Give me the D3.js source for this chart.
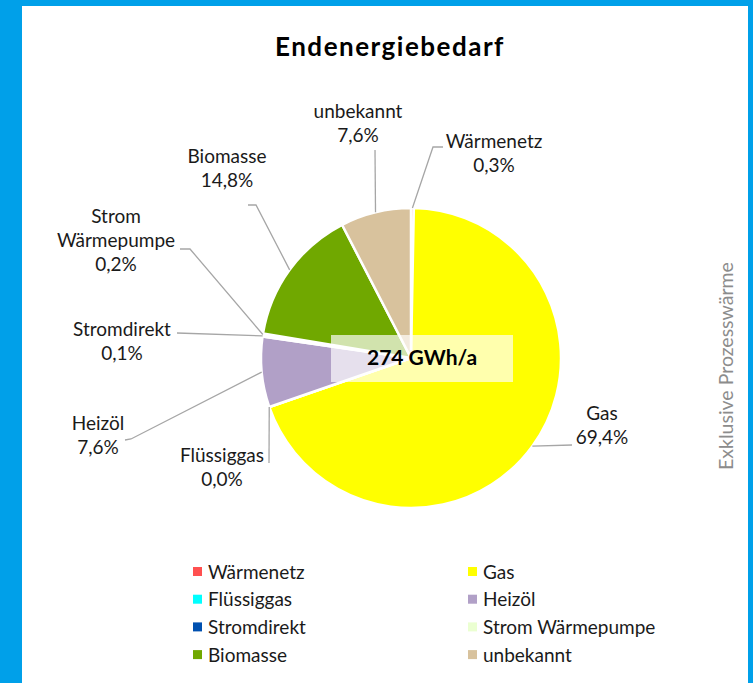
<!DOCTYPE html>
<html lang="de">
<head>
<meta charset="utf-8">
<title>Endenergiebedarf</title>
<script src="https://d3js.org/d3.v7.min.js"></script>
<style>
  body { margin: 0; background: #fff; font-family: Lato, 'Open Sans', sans-serif; }
  #chart { display: block; }
  .label { font-size: 19px; fill: #1a1a1a; text-anchor: middle; }
  .leader { fill: none; stroke: #a6a6a6; stroke-width: 1.3; }
  .legend text { font-size: 19px; fill: #1a1a1a; }
</style>
</head>
<body>
<svg id="chart" width="753" height="683"></svg>
<script>
// Daten
const categories = ['Wärmenetz', 'Gas', 'Flüssiggas', 'Heizöl', 'Stromdirekt', 'Strom Wärmepumpe', 'Biomasse', 'unbekannt'];
const shares = [0.3, 69.4, 0.0, 7.6, 0.1, 0.2, 14.8, 7.6];
const colors = ['#ff5050', '#ffff00', '#00ffff', '#b1a0c7', '#0050b0', '#ebffd1', '#70a800', '#d8c29d'];
const totalLabel = '274 GWh/a';
const title = 'Endenergiebedarf';
const sideNote = 'Exklusive Prozesswärme';

// Layout der Datenbeschriftungen (Position + Knick der Führungslinie)
const labelLayout = {
  'Wärmenetz':        { x: 494, y: 148, lines: ['Wärmenetz'], leader: [[443, 147], [433, 147]] },
  'Gas':              { x: 602, y: 420, lines: ['Gas'], leader: [[572, 445]] },
  'Flüssiggas':       { x: 222, y: 462, lines: ['Flüssiggas'], leader: [[269, 463]] },
  'Heizöl':           { x: 98,  y: 430, lines: ['Heizöl'], leader: [[125, 440], [131, 439]] },
  'Stromdirekt':      { x: 122, y: 336, lines: ['Stromdirekt'], leader: [[177, 333]] },
  'Strom Wärmepumpe': { x: 116, y: 223, lines: ['Strom', 'Wärmepumpe'], leader: [[180, 249], [190, 249]] },
  'Biomasse':         { x: 227, y: 163, lines: ['Biomasse'], leader: [[248, 205], [256, 205]] },
  'unbekannt':        { x: 358, y: 118, lines: ['unbekannt'], leader: [[375, 150]] }
};

const svg = d3.select('#chart');
const W = 753, H = 683;
const cx = 411, cy = 358, r = 150;
const blue = '#00a0e9';

// Rahmen
svg.append('rect').attr('x', 0).attr('y', 0).attr('width', 22).attr('height', H).attr('fill', blue);
svg.append('rect').attr('x', 0).attr('y', 0).attr('width', W).attr('height', 6).attr('fill', blue);
svg.append('rect').attr('x', W - 5).attr('y', 0).attr('width', 5).attr('height', H).attr('fill', blue);

svg.append('text')
  .attr('x', 390).attr('y', 56)
  .attr('text-anchor', 'middle')
  .style('font-size', '26px').style('font-weight', 'bold').style('fill', '#000')
  .style('letter-spacing', '1.5px')
  .text(title);

const fmt = v => d3.format('.1f')(v).replace('.', ',') + '%';

const pie = d3.pie().sort(null).value(d => d.value);
const data = categories.map((c, i) => ({ name: c, value: shares[i], color: colors[i] }));
const arcs = pie(data);

const arc = d3.arc().innerRadius(0).outerRadius(r);
const edge = d3.arc().innerRadius(r).outerRadius(r);

const g = svg.append('g').attr('transform', `translate(${cx},${cy})`);
g.selectAll('path')
  .data(arcs)
  .join('path')
  .attr('d', arc)
  .attr('fill', d => d.data.color)
  .attr('stroke', '#fff')
  .attr('stroke-width', 2.5)
  .attr('stroke-linejoin', 'round');

// Führungslinien
const line = d3.line();
svg.selectAll('.leader')
  .data(arcs)
  .join('path')
  .attr('class', 'leader')
  .attr('d', d => {
    const lay = labelLayout[d.data.name];
    const [ex, ey] = edge.centroid(d);
    return line(lay.leader.concat([[cx + ex, cy + ey]]));
  });

// Beschriftungen
const lab = svg.selectAll('.label')
  .data(arcs)
  .join('text')
  .attr('class', 'label')
  .attr('x', d => labelLayout[d.data.name].x)
  .attr('y', d => labelLayout[d.data.name].y);
lab.each(function (d) {
  const lay = labelLayout[d.data.name];
  const t = d3.select(this);
  lay.lines.concat([fmt(d.data.value)]).forEach((s, k) => {
    t.append('tspan').attr('x', lay.x).attr('dy', k === 0 ? 0 : 24).text(s);
  });
});

// Summe in der Mitte
svg.append('rect')
  .attr('x', 331).attr('y', 335).attr('width', 182).attr('height', 47)
  .attr('fill', '#fff').attr('fill-opacity', 0.68);
svg.append('text')
  .attr('x', 422).attr('y', 365)
  .attr('text-anchor', 'middle')
  .style('font-size', '21px').style('font-weight', 'bold').style('fill', '#000')
  .text(totalLabel);

// Seitenhinweis
svg.append('text')
  .attr('transform', 'translate(733,366) rotate(-90)')
  .attr('text-anchor', 'middle')
  .style('font-size', '19.5px').style('fill', '#8c8c8c')
  .text(sideNote);

// Legende
const legend = svg.append('g').attr('class', 'legend');
const item = legend.selectAll('g')
  .data(data)
  .join('g')
  .attr('transform', (d, i) => `translate(${i % 2 === 0 ? 193 : 468},${572 + Math.floor(i / 2) * 27.7})`);
item.append('rect')
  .attr('x', 0).attr('y', -5).attr('width', 9).attr('height', 9)
  .attr('fill', d => d.color);
item.append('text')
  .attr('x', 15).attr('y', 6.5)
  .text(d => d.name);
</script>
</body>
</html>
